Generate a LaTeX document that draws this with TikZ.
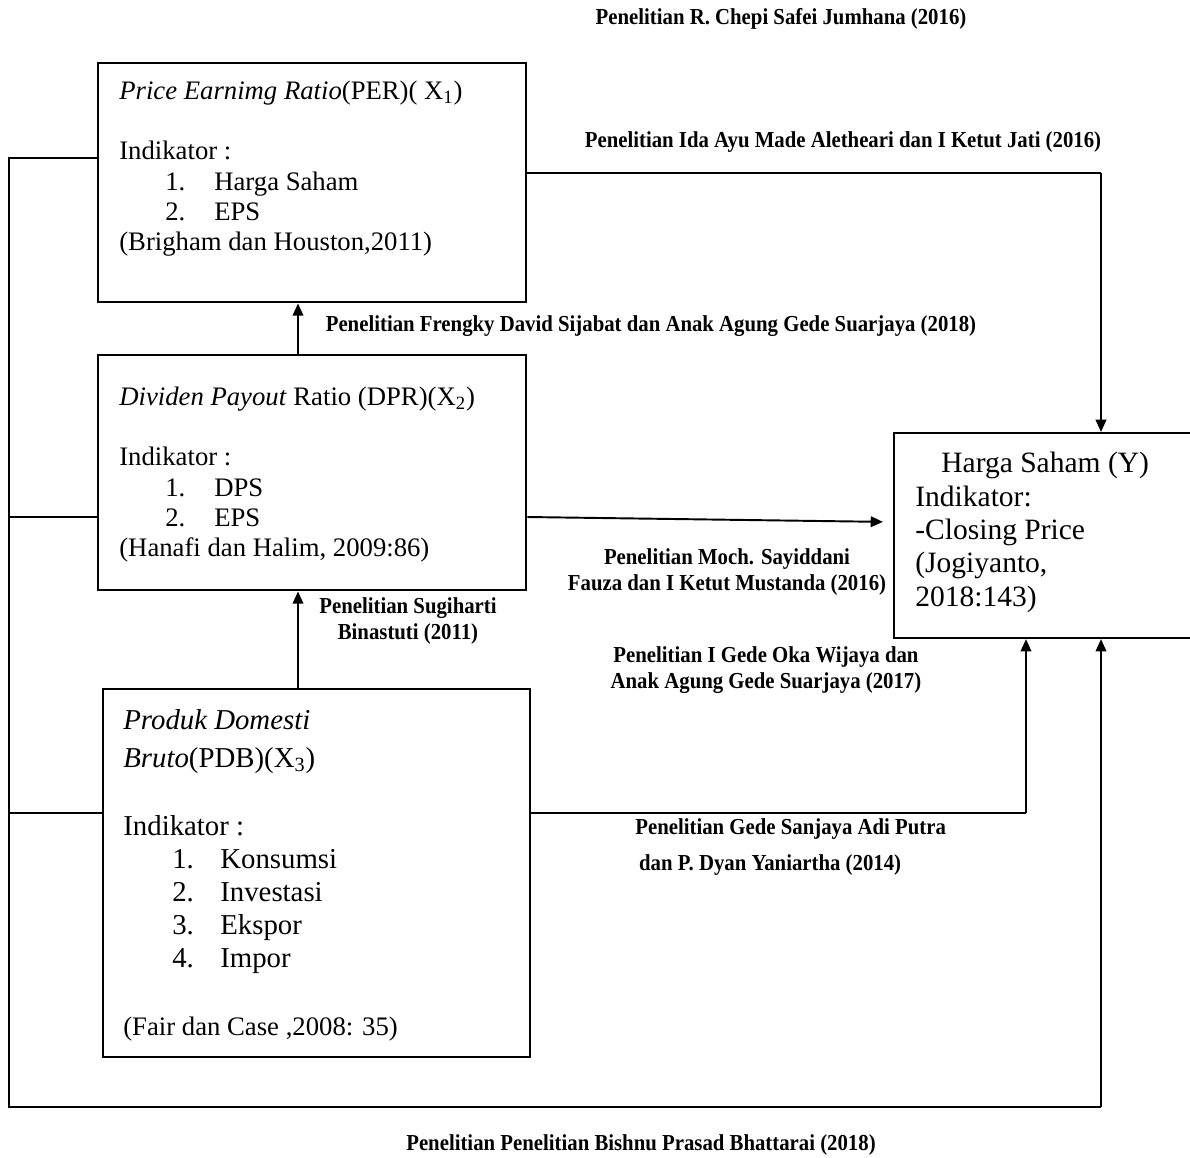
\documentclass[tikz,border=0pt]{standalone}
\usepackage{fontspec}
\setmainfont{Liberation Serif}
\newfontfamily\lblfont[FakeStretch=0.91]{Liberation Serif}
\usetikzlibrary{arrows.meta}

\begin{document}
\begin{tikzpicture}[x=0.02cm,y=-0.02cm,
  kotak/.style={draw,line width=1.4pt,anchor=north west,inner sep=0pt},
  isi/.style={anchor=north west,align=left,inner sep=0pt,font=\fontsize{15.2}{17.1}\selectfont},
  ket/.style={inner sep=0pt,align=center,font=\lblfont\bfseries\fontsize{13}{14.8}\selectfont},
  panah/.style={-{Triangle[length=7pt,width=6pt]},line width=1.1pt},
  garis/.style={line width=0.8pt}]
\useasboundingbox (0,0) rectangle (1190,1157);

\node[kotak,minimum width=8.56cm,minimum height=4.78cm] (per) at (97,62) {};
\node[kotak,minimum width=8.56cm,minimum height=4.7cm] (dpr) at (97,354) {};
\node[kotak,minimum width=8.54cm,minimum height=7.36cm,line width=1.2pt] (pdb) at (102,688) {};
\node[kotak,minimum width=6.1cm,minimum height=4.1cm,line width=1.2pt] (hs) at (893,432) {};

\node[isi] (per-t) at (119,81) {\textit{Price Earnimg Ratio}(PER)( X\textsubscript{1})\\[17.1pt]
  Indikator :\\
  \hspace*{0.92cm}\makebox[0.98cm][l]{1.}Harga Saham\\
  \hspace*{0.92cm}\makebox[0.98cm][l]{2.}EPS\\
  (Brigham dan Houston,2011)};
\node[isi] (dpr-t) at (119,387) {\textit{Dividen Payout} Ratio (DPR)(X\textsubscript{2})\\[17.1pt]
  Indikator :\\
  \hspace*{0.92cm}\makebox[0.98cm][l]{1.}DPS\\
  \hspace*{0.92cm}\makebox[0.98cm][l]{2.}EPS\\
  (Hanafi dan Halim, 2009:86)};
\node[isi,font=\fontsize{16.4}{18.8}\selectfont] (pdb-t) at (123,709) {\textit{Produk Domesti}\\[2.8pt]
  \textit{Bruto}(PDB)(X\textsubscript{3})\\[19.9pt]
  Indikator :\\
  \hspace*{0.98cm}\makebox[0.96cm][l]{1.}Konsumsi\\
  \hspace*{0.98cm}\makebox[0.96cm][l]{2.}Investasi\\
  \hspace*{0.98cm}\makebox[0.96cm][l]{3.}Ekspor\\
  \hspace*{0.98cm}\makebox[0.96cm][l]{4.}Impor};
\node[isi] (pdb-s) at (123,1017) {(Fair dan Case ,2008: 35)};
\node[isi,font=\fontsize{16.8}{19}\selectfont] (hs-t) at (915,452) {\hspace*{0.52cm}Harga Saham (Y)\\
  Indikator:\\
  -Closing Price\\
  (Jogiyanto,\\
  2018:143)};

\coordinate (ax) at (298,0);
\coordinate (s1) at (1101,173);
\coordinate (s2) at (1026,813);
\coordinate (s3) at (1101,1107);
\coordinate (s4) at (9,1107);
\coordinate (s5) at (9,158);
\coordinate (s6) at (9,517);
\coordinate (s7) at (9,813);
\coordinate (s8) at (0,517);
\coordinate (s9) at (0,522);

\draw[panah] (dpr.north -| ax) -- (per.south -| ax);
\draw[panah] (pdb.north -| ax) -- (dpr.south -| ax);
\draw[garis] (per.east |- s1) -- (s1);
\draw[panah] (s1) -- (hs.north -| s1);
\draw[panah,shorten >=0.2cm] (dpr.east |- s8) -- (hs.west |- s9);
\draw[garis] (pdb.east |- s2) -- (s2);
\draw[panah] (s2) -- (hs.south -| s2);
\draw[garis] (per.west |- s5) -- (s5) -- (s4) -- (s3);
\draw[panah] (s3) -- (hs.south -| s3);
\draw[garis] (s6) -- (dpr.west |- s6);
\draw[garis] (s7) -- (pdb.west |- s7);

\node[ket] (k1) at (781,19) {Penelitian R. Chepi Safei Jumhana (2016)};
\node[ket] (k2) at (843,142) {Penelitian Ida Ayu Made Aletheari dan I Ketut Jati (2016)};
\node[ket] (k3) at (651,326) {Penelitian Frengky David Sijabat dan Anak Agung Gede Suarjaya (2018)};
\node[ket] (k4) at (727,572) {Penelitian Moch. Sayiddani\\ Fauza dan I Ketut Mustanda (2016)};
\node[ket] (k5) at (408,621) {Penelitian Sugiharti\\ Binastuti (2011)};
\node[ket] (k6) at (766,670) {Penelitian I Gede Oka Wijaya dan\\ Anak Agung Gede Suarjaya (2017)};
\node[ket,align=left,anchor=west] (k7) at (635,847) {Penelitian Gede Sanjaya Adi Putra\\[6pt] \,dan P. Dyan Yaniartha (2014)};
\node[ket] (k8) at (641,1145) {Penelitian Penelitian Bishnu Prasad Bhattarai (2018)};
\end{tikzpicture}
\end{document}
